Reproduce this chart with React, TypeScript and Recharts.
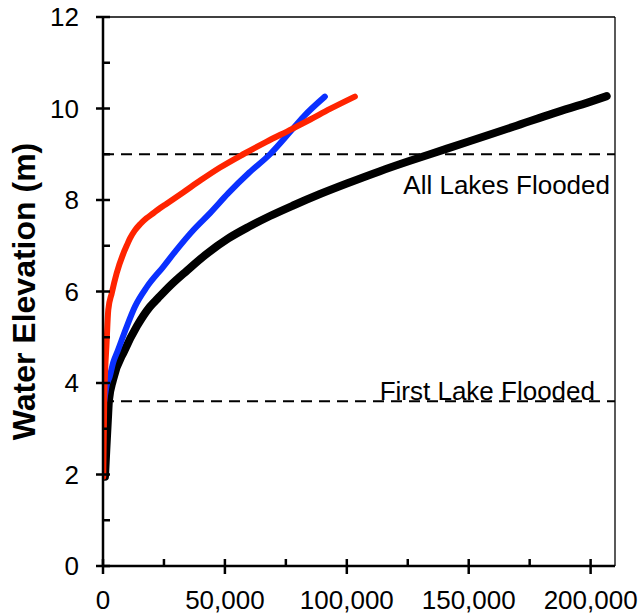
import React from 'react';
import { LineChart, Line, XAxis, YAxis, ReferenceLine } from 'recharts';

// Series values (x = volume, y = water elevation in m)
const blackX = [800, 1350, 2000, 2460, 4100, 8900, 14000, 19300, 22500, 28000, 34300, 42000, 51400, 60000, 68500, 78000, 89000, 100000, 113600, 125000, 134100, 150000, 168300, 185000, 200000, 206600];
const blackY = [1.95, 2.54, 3.2, 3.63, 4.07, 4.72, 5.25, 5.67, 5.85, 6.15, 6.45, 6.8, 7.16, 7.42, 7.65, 7.88, 8.13, 8.36, 8.63, 8.84, 9.0, 9.28, 9.6, 9.9, 10.15, 10.27];

const blueX = [500, 1500, 2740, 4200, 6150, 9500, 13100, 18000, 24700, 30000, 37000, 44000, 51400, 60000, 68500, 77400, 82200, 91000];
const blueY = [3.6, 3.95, 4.14, 4.45, 4.72, 5.2, 5.67, 6.1, 6.54, 6.9, 7.34, 7.72, 8.15, 8.6, 9.0, 9.53, 9.82, 10.26];

const redX = [100, 300, 500, 900, 1400, 2170, 3570, 5600, 8330, 9700, 11070, 13000, 15200, 17800, 20600, 23300, 26100, 33000, 40000, 48000, 57500, 67000, 77400, 85000, 93100, 103300];
const redY = [1.95, 2.8, 3.6, 4.3, 4.8, 5.6, 5.96, 6.4, 6.83, 7.0, 7.16, 7.33, 7.47, 7.6, 7.71, 7.82, 7.92, 8.17, 8.43, 8.71, 9.0, 9.27, 9.55, 9.76, 9.99, 10.26];

// Axis ticks
const xTicks = [0, 25000, 50000, 75000, 100000, 125000, 150000, 175000, 200000];
const xMajor = [0, 50000, 100000, 150000, 200000];
const yTicks = [0, 1, 2, 3, 4, 5, 6, 7, 8, 9, 10, 11, 12];
const yMajor = [0, 2, 4, 6, 8, 10, 12];

// Threshold lines
const allLakesLevel = 9.0;
const firstLakeLevel = 3.6;
const allLakesText = 'All Lakes Flooded';
const firstLakeText = 'First Lake Flooded';
const yTitle = 'Water Elevation (m)';

const zip = (xs: number[], ys: number[]) => xs.map((x, i) => ({ x, y: ys[i] }));
const blackData = zip(blackX, blackY);
const blueData = zip(blueX, blueY);
const redData = zip(redX, redY);

const FONT = '"Liberation Sans", Arial, Helvetica, sans-serif';

const YTick = (props: any) => {
  const { x, y, payload } = props;
  const v = payload.value;
  const major = yMajor.includes(v);
  return (
    <g>
      <line x1={major ? x - 7 : x} x2={x + 7} y1={y} y2={y} stroke="#000" strokeWidth={2.5} />
      {major && (
        <text x={x - 24} y={y} dy="0.36em" textAnchor="end" fontSize={26} fontFamily={FONT} fill="#000">
          {v}
        </text>
      )}
    </g>
  );
};

const XTick = (props: any) => {
  const { x, y, payload } = props;
  const v = payload.value;
  const major = xMajor.includes(v);
  return (
    <g>
      <line x1={x} x2={x} y1={y - 7} y2={major ? y + 8 : y} stroke="#000" strokeWidth={2.5} />
      {major && (
        <text x={x} y={y + 43} textAnchor="middle" fontSize={26} fontFamily={FONT} fill="#000">
          {v.toLocaleString('en-US')}
        </text>
      )}
    </g>
  );
};

const LineLabel = (props: any) => {
  const { viewBox, text, dxRight, dy } = props;
  if (!viewBox) return null;
  return (
    <text
      x={viewBox.x + viewBox.width - dxRight}
      y={viewBox.y + dy}
      textAnchor="end"
      fontSize={26}
      fontFamily={FONT}
      fill="#000"
    >
      {text}
    </text>
  );
};

const YTitle = (props: any) => {
  const { viewBox } = props;
  if (!viewBox) return null;
  const cx = viewBox.x + 35;
  const cy = viewBox.y + viewBox.height / 2;
  return (
    <text
      x={cx}
      y={cy}
      transform={`rotate(-90 ${cx} ${cy})`}
      textAnchor="middle"
      fontSize={32}
      fontWeight="bold"
      fontFamily={FONT}
      fill="#000"
    >
      {yTitle}
    </text>
  );
};

export default function App() {
  return (
    <div style={{ width: 641, height: 616 }}>
      <style>{'html,body{margin:0;padding:0;overflow:hidden;}'}</style>
      <LineChart width={641} height={616} margin={{ top: 17, right: 26, bottom: 0, left: 0 }}>
        <XAxis
          type="number"
          dataKey="x"
          domain={[0, 210000]}
          ticks={xTicks}
          interval={0}
          allowDataOverflow
          height={50}
          tickSize={0}
          tickMargin={0}
          tickLine={false}
          axisLine={{ stroke: '#000', strokeWidth: 2.5 }}
          tick={<XTick />}
        />
        <YAxis
          type="number"
          dataKey="y"
          domain={[0, 12]}
          ticks={yTicks}
          interval={0}
          allowDataOverflow
          width={103}
          tickSize={0}
          tickMargin={0}
          tickLine={false}
          axisLine={{ stroke: '#000', strokeWidth: 2.5 }}
          tick={<YTick />}
          label={<YTitle />}
        />
        <ReferenceLine y={12} stroke="#000" strokeWidth={1.3} ifOverflow="visible" />
        <ReferenceLine x={210000} stroke="#000" strokeWidth={1.3} ifOverflow="visible" />
        <ReferenceLine
          y={allLakesLevel}
          stroke="#000"
          strokeWidth={2}
          strokeDasharray="11 7"
          label={<LineLabel text={allLakesText} dxRight={5} dy={40} />}
        />
        <ReferenceLine
          y={firstLakeLevel}
          stroke="#000"
          strokeWidth={2}
          strokeDasharray="11 7"
          label={<LineLabel text={firstLakeText} dxRight={20} dy={-1} />}
        />
        <Line
          data={blackData}
          dataKey="y"
          type="monotone"
          stroke="#000"
          strokeWidth={8}
          strokeLinecap="round"
          strokeLinejoin="round"
          dot={false}
          activeDot={false}
          isAnimationActive={false}
        />
        <Line
          data={blueData}
          dataKey="y"
          type="monotone"
          stroke="#0a30ff"
          strokeWidth={6}
          strokeLinecap="round"
          strokeLinejoin="round"
          dot={false}
          activeDot={false}
          isAnimationActive={false}
        />
        <Line
          data={redData}
          dataKey="y"
          type="monotone"
          stroke="#ff2400"
          strokeWidth={6}
          strokeLinecap="round"
          strokeLinejoin="round"
          dot={false}
          activeDot={false}
          isAnimationActive={false}
        />
      </LineChart>
    </div>
  );
}
